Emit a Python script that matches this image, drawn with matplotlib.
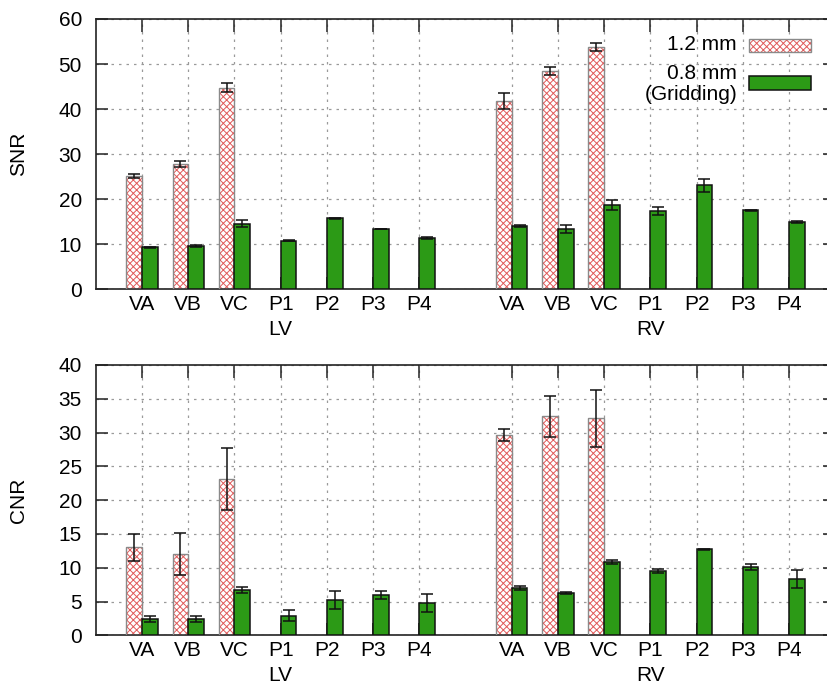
import numpy as np
import matplotlib
matplotlib.use("Agg")
import matplotlib.pyplot as plt
from matplotlib.patches import Rectangle

plt.rcParams['font.family'] = ['Liberation Sans', 'DejaVu Sans']
plt.rcParams['hatch.linewidth'] = 0.7

# ---------------- data ----------------
categories = ["VA", "VB", "VC", "P1", "P2", "P3", "P4"]
groups = ["LV", "RV"]
legend_labels = ["1.2 mm", "0.8 mm\n(Gridding)"]

snr_lv_12 = [25.2, 27.8, 44.7]
snr_lv_12_err = [0.5, 0.6, 1.0]
snr_lv_08 = [9.3, 9.6, 14.6, 10.8, 15.8, 13.4, 11.4]
snr_lv_08_err = [0.2, 0.2, 0.75, 0.1, 0.1, 0.05, 0.2]
snr_rv_12 = [41.8, 48.5, 53.8]
snr_rv_12_err = [1.7, 0.9, 0.9]
snr_rv_08 = [14.1, 13.4, 18.7, 17.4, 23.1, 17.5, 14.9]
snr_rv_08_err = [0.2, 0.8, 1.1, 0.85, 1.4, 0.05, 0.15]

cnr_lv_12 = [13.0, 12.0, 23.1]
cnr_lv_12_err = [2.05, 3.1, 4.6]
cnr_lv_08 = [2.4, 2.4, 6.7, 2.9, 5.2, 6.0, 4.8]
cnr_lv_08_err = [0.5, 0.45, 0.45, 0.8, 1.35, 0.6, 1.3]
cnr_rv_12 = [29.65, 32.4, 32.1]
cnr_rv_12_err = [0.95, 3.0, 4.2]
cnr_rv_08 = [7.0, 6.2, 10.9, 9.5, 12.7, 10.1, 8.3]
cnr_rv_08_err = [0.35, 0.15, 0.3, 0.3, 0.05, 0.45, 1.3]

snr_ticks = [0, 10, 20, 30, 40, 50, 60]
cnr_ticks = [0, 5, 10, 15, 20, 25, 30, 35, 40]

# ---------------- style ----------------
W, H = 827, 688
PINK_HATCH = '#e05a5a'
PINK_EDGE = '#8a8a8a'
GREEN = '#2c9a16'
BW = 0.34
FS = 15

fig = plt.figure(figsize=(W / 100, H / 100), dpi=100)


def fig_rect(left_px, top_px, right_px, bottom_px):
    return [left_px / W, 1 - bottom_px / H, (right_px - left_px) / W, (bottom_px - top_px) / H]


ax_top = fig.add_axes(fig_rect(95.8, 19.0, 835.2, 289.3))
ax_bot = fig.add_axes(fig_rect(95.8, 365.0, 835.2, 635.3))

pos_lv = np.arange(len(categories))
pos_rv = np.arange(len(categories)) + len(categories) + 1
positions = np.concatenate([pos_lv, pos_rv])


def draw(ax, lv12, lv12e, lv08, lv08e, rv12, rv12e, rv08, rv08e, ticks, ylabel):
    ax.set_axisbelow(True)
    for pos, v12, e12, v08, e08 in [(pos_lv, lv12, lv12e, lv08, lv08e),
                                     (pos_rv, rv12, rv12e, rv08, rv08e)]:
        p12 = pos[:len(v12)]
        # hatched 1.2 mm bars (hatch drawn in red, outline drawn separately in gray)
        ax.bar(p12 - BW, v12, width=BW, align='edge', color='white', edgecolor=PINK_HATCH,
               hatch='xxxxx', linewidth=0, zorder=2)
        ax.bar(p12 - BW, v12, width=BW, align='edge', color='none', edgecolor=PINK_EDGE,
               linewidth=1.0, zorder=3)
        ax.errorbar(p12 - BW / 2, v12, yerr=e12, fmt='none', ecolor='#111111',
                    elinewidth=1.1, capsize=4.6, capthick=1.1, zorder=5)
        # green 0.8 mm bars
        ax.bar(pos, v08, width=BW, align='edge', color=GREEN, edgecolor='#111111',
               linewidth=1.1, zorder=3)
        ax.errorbar(pos + BW / 2, v08, yerr=e08, fmt='none', ecolor='#111111',
                    elinewidth=1.1, capsize=4.6, capthick=1.1, zorder=5)
    ax.set_xlim(-1, 15)
    ax.set_ylim(ticks[0], ticks[-1])
    ax.set_yticks(ticks)
    ax.set_xticks(positions)
    ax.set_xticklabels(categories * 2)
    ax.tick_params(axis='x', direction='in', top=True, bottom=True, length=9, width=1.1,
                   labelsize=FS, pad=4, color='#222222')
    ax.tick_params(axis='y', direction='in', left=True, right=True, length=8.5, width=1.1,
                   labelsize=FS, pad=10, color='#222222')
    ax.grid(True, color='#9a9a9a', linestyle=(0, (2.0, 4.0)), linewidth=0.9)
    for s in ax.spines.values():
        s.set_color('#222222')
        s.set_linewidth(1.2)
    ax.set_ylabel(ylabel, fontsize=FS)
    ax.yaxis.set_label_coords(-0.092, 0.5)
    tr = ax.get_xaxis_transform()
    for g, pos in zip(groups, [pos_lv, pos_rv]):
        ax.text(pos.mean(), -0.170, g, transform=tr, ha='center', va='baseline', fontsize=FS)


draw(ax_top, snr_lv_12, snr_lv_12_err, snr_lv_08, snr_lv_08_err,
     snr_rv_12, snr_rv_12_err, snr_rv_08, snr_rv_08_err, snr_ticks, 'SNR')
draw(ax_bot, cnr_lv_12, cnr_lv_12_err, cnr_lv_08, cnr_lv_08_err,
     cnr_rv_12, cnr_rv_12_err, cnr_rv_08, cnr_rv_08_err, cnr_ticks, 'CNR')

# ---------------- legend (top panel, upper right) ----------------
def px(x, y):
    return (x / W, 1 - y / H)

fig.text(*px(737, 45), legend_labels[0], ha='right', va='center', fontsize=FS)
fig.text(*px(737, 84), legend_labels[1], ha='right', va='center', fontsize=FS,
         multialignment='right', linespacing=1.15)
x0, y0 = px(749, 52)
fig.patches.append(Rectangle((x0, y0), 62 / W, 13 / H, transform=fig.transFigure,
                             facecolor='white', edgecolor=PINK_HATCH, hatch='xxxxx',
                             linewidth=0, figure=fig))
fig.patches.append(Rectangle((x0, y0), 62 / W, 13 / H, transform=fig.transFigure,
                             facecolor='none', edgecolor=PINK_EDGE, linewidth=1.0, figure=fig))
x1, y1 = px(749, 90)
fig.patches.append(Rectangle((x1, y1), 62 / W, 14 / H, transform=fig.transFigure,
                             facecolor=GREEN, edgecolor='#111111', linewidth=1.1, figure=fig))

fig.savefig('out.png', dpi=100)
